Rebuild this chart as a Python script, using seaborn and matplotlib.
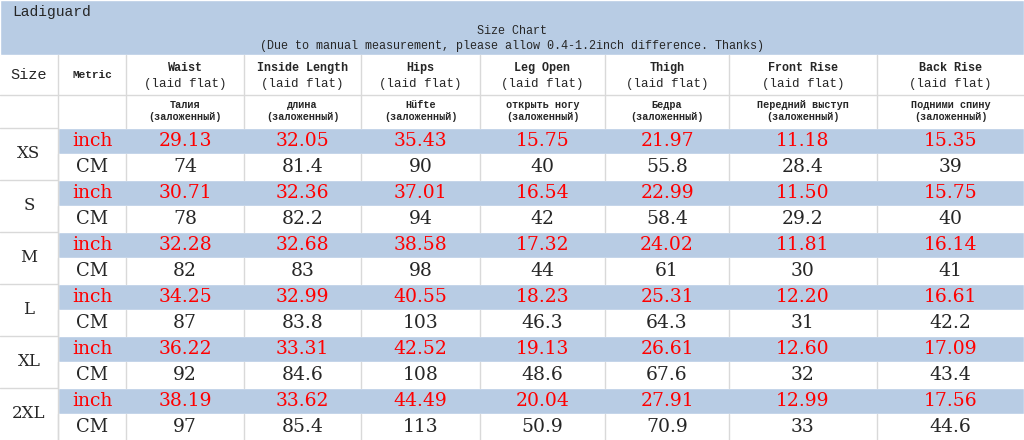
import numpy as np
import matplotlib
matplotlib.use("Agg")
import matplotlib.pyplot as plt
import seaborn as sns

# ── Data ──────────────────────────────────────────────────────────────────────
SIZES = ["XS", "S", "M", "L", "XL", "2XL"]
MEASURES = ["Waist", "Inside Length", "Hips", "Leg Open", "Thigh", "Front Rise", "Back Rise"]
RU_LABELS = ["Талия", "длина", "Hüfte", "открыть ногу", "Бедра", "Передний выступ", "Подними спину"]

INCH = [
    ["29.13", "32.05", "35.43", "15.75", "21.97", "11.18", "15.35"],
    ["30.71", "32.36", "37.01", "16.54", "22.99", "11.50", "15.75"],
    ["32.28", "32.68", "38.58", "17.32", "24.02", "11.81", "16.14"],
    ["34.25", "32.99", "40.55", "18.23", "25.31", "12.20", "16.61"],
    ["36.22", "33.31", "42.52", "19.13", "26.61", "12.60", "17.09"],
    ["38.19", "33.62", "44.49", "20.04", "27.91", "12.99", "17.56"],
]
CM = [
    ["74", "81.4", "90", "40", "55.8", "28.4", "39"],
    ["78", "82.2", "94", "42", "58.4", "29.2", "40"],
    ["82", "83", "98", "44", "61", "30", "41"],
    ["87", "83.8", "103", "46.3", "64.3", "31", "42.2"],
    ["92", "84.6", "108", "48.6", "67.6", "32", "43.4"],
    ["97", "85.4", "113", "50.9", "70.9", "33", "44.6"],
]

# ── Layout ────────────────────────────────────────────────────────────────────
COL_EDGES = [0, 58, 126, 244, 361, 480, 605, 729, 877, 1024]
TITLE_H = 55
HEAD_EDGES = [55, 95, 128]
ROW_H = 26
BLUE = "#b8cce4"
LINE = "#d9d9d9"
SERIF = ["DejaVu Serif"]
MONO = ["Liberation Mono", "DejaVu Sans Mono"]

sns.set_theme(style="white")
fig = plt.figure(figsize=(10.24, 4.4), dpi=100)
ax = fig.add_axes([0, 0, 1, 1])
ax.set_xlim(0, 1024)
ax.set_ylim(440, 0)
ax.axis("off")
fig.patch.set_facecolor("white")

# title band
ax.barh(TITLE_H / 2, 1024, height=TITLE_H, left=0, color=BLUE)
ax.text(12, 12, "Ladiguard", fontsize=10.5, family=MONO, va="center", ha="left")
ax.text(512, 31, "Size Chart", fontsize=8.5, family=MONO, va="center", ha="center")
ax.text(512, 46, "(Due to manual measurement, please allow 0.4-1.2inch difference. Thanks)",
        fontsize=8.5, family=MONO, va="center", ha="center")

# inch-row bands
inch_y = [HEAD_EDGES[-1] + 2 * i * ROW_H + ROW_H / 2 for i in range(len(SIZES))]
ax.barh(inch_y, 1024 - COL_EDGES[1], height=ROW_H, left=COL_EDGES[1], color=BLUE)

bottom = HEAD_EDGES[-1] + 2 * len(SIZES) * ROW_H
# grid lines
for x in COL_EDGES[1:-1]:
    ax.plot([x, x], [TITLE_H, HEAD_EDGES[-1]], color=LINE, lw=1)
    for i in range(len(SIZES)):
        y0 = HEAD_EDGES[-1] + (2 * i + 1) * ROW_H
        ax.plot([x, x], [y0, y0 + ROW_H], color=LINE, lw=1)
ax.plot([COL_EDGES[1]] * 2, [HEAD_EDGES[-1], bottom], color=LINE, lw=1)
ax.plot([0, 1024], [HEAD_EDGES[1]] * 2, color=LINE, lw=1)
for i in range(0, len(SIZES)):
    y = HEAD_EDGES[-1] + 2 * i * ROW_H
    ax.plot([0, COL_EDGES[1]], [y, y], color=LINE, lw=1)

# headers
hy = (HEAD_EDGES[0] + HEAD_EDGES[1]) / 2
ry = (HEAD_EDGES[1] + HEAD_EDGES[2]) / 2
ax.text(29, hy, "Size", fontsize=11, family=MONO, ha="center", va="center")
ax.text(92, hy, "Metric", fontsize=8, family=MONO, ha="center", va="center", weight="bold")
for j, name in enumerate(MEASURES):
    cx = (COL_EDGES[j + 2] + COL_EDGES[j + 3]) / 2
    ax.text(cx, hy - 7, name, fontsize=8.5, family=MONO, ha="center", va="center", weight="bold")
    ax.text(cx, hy + 9, "(laid flat)", fontsize=9, family=MONO, ha="center", va="center")
    ax.text(cx, ry - 6, RU_LABELS[j], fontsize=7.3, family=MONO, ha="center",
            va="center", weight="bold")
    ax.text(cx, ry + 6, "(заложенный)", fontsize=7.3, family=MONO, ha="center",
            va="center", weight="bold")

# body
for i, size in enumerate(SIZES):
    y_in = inch_y[i]
    y_cm = y_in + ROW_H
    ax.text(29, y_in + ROW_H / 2, size, fontsize=12, family=SERIF, ha="center", va="center")
    ax.text(92, y_in, "inch", fontsize=13.5, family=SERIF, color="#ff0000", ha="center", va="center")
    ax.text(92, y_cm, "CM", fontsize=13, family=SERIF, ha="center", va="center")
    for j in range(len(MEASURES)):
        cx = (COL_EDGES[j + 2] + COL_EDGES[j + 3]) / 2
        ax.text(cx, y_in, INCH[i][j], fontsize=13.5, family=SERIF, color="#ff0000",
                ha="center", va="center")
        ax.text(cx, y_cm, CM[i][j], fontsize=13.5, family=SERIF, ha="center", va="center")

fig.savefig("out.png", dpi=100)
